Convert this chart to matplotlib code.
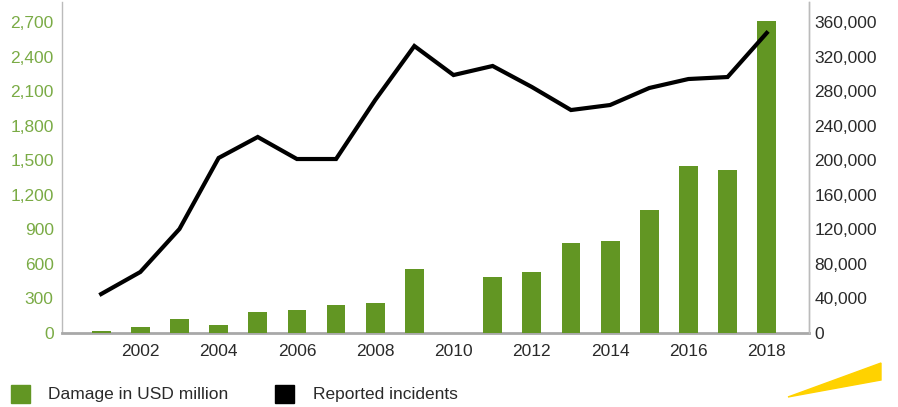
import matplotlib
matplotlib.use("Agg")
import matplotlib.pyplot as plt
from matplotlib.patches import Polygon, Rectangle
from matplotlib.ticker import FuncFormatter

years = list(range(2001, 2019))
damage_usd_million = [17.8, 54.0, 125.6, 68.1, 183.1, 198.4, 239.1, 264.6, 559.7, 0.0,
                      485.3, 525.4, 781.8, 800.5, 1070.7, 1450.7, 1418.7, 2706.0]
reported_incidents = [45100, 70600, 120400, 202600, 226900, 201400, 201400, 269700, 332200,
                      298600, 309100, 284800, 258100, 263900, 283600, 294000, 296300, 347300]
left_ticks = list(range(0, 2701, 300))
right_ticks = list(range(0, 360001, 40000))
x_ticks = list(range(2002, 2019, 2))
legend_labels = ["Damage in USD million", "Reported incidents"]

GREEN = "#629623"
GREEN_TXT = "#7aab45"
TXT = "#2a2a2a"
W, H = 898, 407
plt.rcParams['font.family'] = ['Liberation Sans', 'DejaVu Sans']
FS = 12.5

fig = plt.figure(figsize=(W / 100, H / 100), dpi=100)
ax = fig.add_axes([62 / W, 1 - 333 / H, (809 - 62) / W, (333 - 2) / H])
ax.bar(years, damage_usd_million, width=0.48, color=GREEN, zorder=3)
ax.set_xlim(2000.0, 2019.08)
ax.set_ylim(0, 2700 * 331 / 311)
ax.set_yticks(left_ticks)
ax.yaxis.set_major_formatter(FuncFormatter(lambda v, p: f"{int(v):,}"))
ax.set_xticks(x_ticks)
ax.tick_params(axis='y', length=0, pad=6, labelsize=FS, labelcolor=GREEN_TXT)
ax.tick_params(axis='x', length=0, pad=8, labelsize=FS, labelcolor=TXT)
ax.spines['top'].set_visible(False)
ax.spines['left'].set_color("#bbbbbb")
ax.spines['left'].set_linewidth(1.0)
ax.spines['right'].set_color("#bbbbbb")
ax.spines['right'].set_linewidth(1.0)
ax.spines['bottom'].set_color("#a8a8a8")
ax.spines['bottom'].set_linewidth(2.0)

ax2 = ax.twinx()
ax2.plot(years, reported_incidents, color="black", lw=3.0, solid_joinstyle='miter', zorder=3)
ax2.set_ylim(0, 360000 * 331 / 311)
ax2.set_yticks(right_ticks)
ax2.yaxis.set_major_formatter(FuncFormatter(lambda v, p: f"{int(v):,}"))
ax2.tick_params(axis='y', length=0, pad=4, labelsize=FS, labelcolor=TXT)
for s in ['top', 'left', 'bottom']:
    ax2.spines[s].set_visible(False)
ax2.spines['right'].set_color("#bbbbbb")
ax2.spines['right'].set_linewidth(1.0)

# legend (manual)
for (x0, col, lab, tx) in [(11, GREEN, legend_labels[0], 48), (275, "black", legend_labels[1], 313)]:
    fig.patches.append(Rectangle((x0 / W, 1 - 403 / H), 19 / W, 18 / H,
                                 transform=fig.transFigure, color=col))
    fig.text(tx / W, 1 - 395 / H, lab, fontsize=FS, color=TXT, va='center', ha='left')

# yellow beam
pts = [(788 / W, 1 - 397 / H), (881 / W, 1 - 363 / H), (881 / W, 1 - 380 / H)]
fig.patches.append(Polygon(pts, closed=True, transform=fig.transFigure, color="#ffd200"))

fig.savefig("out.png", dpi=100)
